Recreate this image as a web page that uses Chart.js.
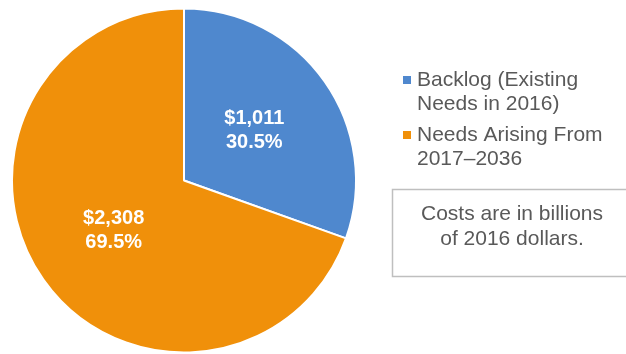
<!DOCTYPE html>
<html>
<head>
<meta charset="utf-8">
<script src="https://cdn.jsdelivr.net/npm/chart.js@4"></script>
<style>
  html, body { margin: 0; padding: 0; background: #fff; }
  #wrap { position: relative; width: 626px; height: 354px; }
</style>
</head>
<body>
<div id="wrap"><canvas id="pieChart" width="626" height="354"></canvas></div>
<script>
// data
var categories = ["Backlog (Existing Needs in 2016)", "Needs Arising From 2017\u20132036"];
var legendLines = [["Backlog (Existing", "Needs in 2016)"], ["Needs Arising From", "2017\u20132036"]];
var costs = [1011, 2308];
var shares = ["30.5%", "69.5%"];
var colors = ['#4F88CE', '#F0900A'];
var note = ["Costs are in billions", "of 2016 dollars."];

// slice labels + legend + note box
var extras = {
    id: 'extras',
    afterDatasetsDraw: function(chart) {
        var ctx = chart.ctx;
        var meta = chart.getDatasetMeta(0);
        ctx.save();
        ctx.fillStyle = '#fff';
        ctx.font = 'bold 20px "Liberation Sans", Arial, sans-serif';
        ctx.textAlign = 'center';
        ctx.textBaseline = 'middle';
        meta.data.forEach(function(arc, i) {
            var p = arc.tooltipPosition();
            ctx.fillText('$' + costs[i].toLocaleString('en-US'), p.x, p.y - 12);
            ctx.fillText(shares[i], p.x, p.y + 12);
        });

        // legend
        ctx.font = '21px "Liberation Sans", Arial, sans-serif';
        ctx.textAlign = 'left';
        var y0 = [80, 135];
        legendLines.forEach(function(lines, i) {
            ctx.fillStyle = colors[i];
            ctx.fillRect(403, y0[i] - 4, 8, 8);
            ctx.fillStyle = '#595959';
            lines.forEach(function(t, j) {
                ctx.fillText(t, 417, y0[i] + j * 24);
            });
        });

        // note box
        ctx.strokeStyle = '#bfbfbf';
        ctx.lineWidth = 1.5;
        ctx.strokeRect(392.5, 189.5, 240, 87);
        ctx.textAlign = 'center';
        note.forEach(function(t, j) {
            ctx.fillText(t, 512, 214 + j * 25);
        });
        ctx.restore();
    }
};

var ctxP = document.getElementById("pieChart").getContext('2d');
var myPieChart = new Chart(ctxP, {
    type: 'pie',
    data: {
        labels: categories,
        datasets: [{
            data: costs,
            backgroundColor: colors,
            borderColor: '#fff',
            borderWidth: 2
        }]
    },
    options: {
        responsive: false,
        animation: false,
        layout: { padding: { left: 11, right: 269, top: 7, bottom: 0 } },
        plugins: {
            legend: { display: false },
            tooltip: { enabled: false }
        }
    },
    plugins: [extras]
});
</script>
</body>
</html>
